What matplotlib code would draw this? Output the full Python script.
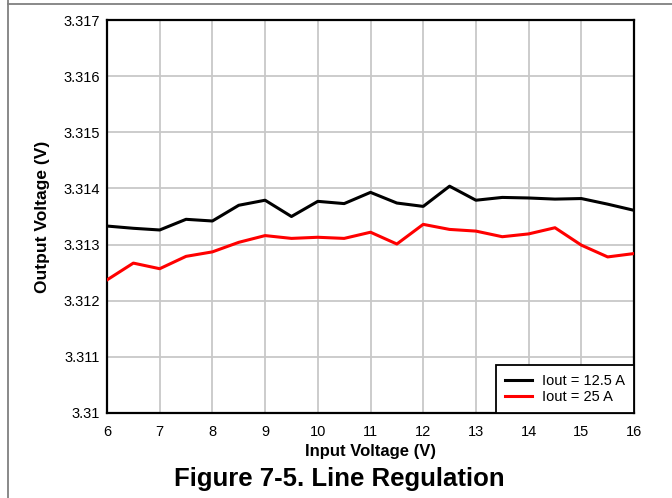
import matplotlib
matplotlib.use("Agg")
import matplotlib.pyplot as plt
from matplotlib.lines import Line2D

plt.rcParams['font.family'] = ['Liberation Sans', 'DejaVu Sans']

# input voltage (V)
vin = [6, 6.5, 7, 7.5, 8, 8.5, 9, 9.5, 10, 10.5, 11,
       11.5, 12, 12.5, 13, 13.5, 14, 14.5, 15, 15.5, 16]

# output voltage (V), Iout = 12.5 A
vout_12a5 = [3.31333, 3.31329, 3.31326, 3.31345, 3.31342, 3.31370, 3.31379,
             3.31350, 3.31377, 3.31373, 3.31393, 3.31374, 3.31368, 3.31404,
             3.31379, 3.31384, 3.31383, 3.31381, 3.31382, 3.31372, 3.31361]

# output voltage (V), Iout = 25 A
vout_25a = [3.31237, 3.31267, 3.31257, 3.31279, 3.31287, 3.31304, 3.31316,
            3.31311, 3.31313, 3.31311, 3.31322, 3.31301, 3.31336, 3.31327,
            3.31324, 3.31314, 3.31319, 3.31330, 3.31299, 3.31278, 3.31284]

xticks = [6, 7, 8, 9, 10, 11, 12, 13, 14, 15, 16]
yticks = [3.310, 3.311, 3.312, 3.313, 3.314, 3.315, 3.316, 3.317]
ytick_labels = ["3.31", "3.311", "3.312", "3.313", "3.314", "3.315", "3.316", "3.317"]

fig = plt.figure(figsize=(6.72, 4.98), dpi=100)
ax = fig.add_axes([0.1592, 0.1707, 0.7843, 0.7891])

ax.plot(vin, vout_12a5, color="black", lw=2.2, label="Iout = 12.5 A", zorder=3)
ax.plot(vin, vout_25a, color="red", lw=2.2, label="Iout = 25 A", zorder=3)

ax.set_xlim(6, 16)
ax.set_ylim(3.310, 3.317)
ax.set_xticks(xticks)
ax.set_yticks(yticks)
ax.set_yticklabels(ytick_labels)
ax.tick_params(length=0, labelsize=10.5)
ax.tick_params(axis="x", pad=9)
ax.tick_params(axis="y", pad=5)
ax.grid(True, color="#c8c8c8", lw=1.3)
ax.set_axisbelow(True)
for s in ax.spines.values():
    s.set_linewidth(1.6)
    s.set_color("black")

ax.set_xlabel("Input Voltage (V)", fontsize=12, fontweight="bold", labelpad=3)
ax.set_ylabel("Output Voltage (V)", fontsize=12.5, fontweight="bold", labelpad=10)

leg = ax.legend(loc="lower right", borderaxespad=0, fancybox=False,
                framealpha=1, edgecolor="black", fontsize=10.5,
                handlelength=1.85, labelspacing=0.15, borderpad=0.6,
                handletextpad=0.7)
leg.get_frame().set_linewidth(1.3)

fig.text(0.505, 0.038, "Figure 7-5. Line Regulation", ha="center", va="center",
         fontsize=18.5, fontweight="bold")

# page border lines from the datasheet crop
fig.add_artist(Line2D([7.5 / 672, 1], [1 - 4 / 498, 1 - 4 / 498], color="#808080", lw=1.3))
fig.add_artist(Line2D([7.5 / 672, 7.5 / 672], [0, 1], color="#808080", lw=1.3))

plt.savefig("out.png", dpi=100)
